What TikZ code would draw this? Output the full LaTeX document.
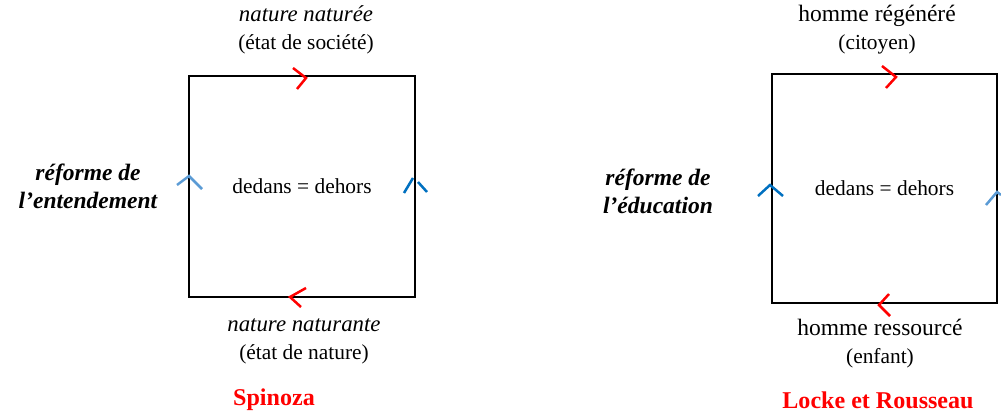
\documentclass[tikz,border=0pt]{standalone}
\usepackage{fontspec}
\setmainfont{Liberation Serif}
\usepackage{tikz}
\definecolor{markred}{RGB}{255,0,0}
\definecolor{lblue}{RGB}{91,155,213}
\definecolor{dblue}{RGB}{0,112,192}
\newcommand{\largeline}{\fontsize{13.2}{15.7}\selectfont}

\begin{document}
\begin{tikzpicture}[x=0.561pt,y=-0.561pt,font=\fontsize{12}{15.7}\selectfont,
box/.style={draw,line width=1.6pt,inner sep=0pt},
lbl/.style={align=center,inner sep=0pt},
side/.style={align=center,inner sep=0pt,font=\fontsize{13.2}{15.7}\selectfont\bfseries\itshape},
who/.style={inner sep=0pt,text=markred,font=\fontsize{13.5}{15}\selectfont\bfseries},
chev/.style={line width=1.4pt}]
\useasboundingbox (0,0) rectangle (1001,412);
% Spinoza
\node[box,minimum width=126.8pt,minimum height=124pt] (spbox) at (302,186.5) {dedans = dehors};
\node[lbl] (sptop) at (306,30) {{\fontsize{12.8}{15.7}\selectfont\itshape nature naturée}\\(état de société)};
\node[lbl] (spbot) at (304,341) {{\fontsize{12.8}{15.7}\selectfont\itshape nature naturante}\\(état de nature)};
\node[side] (spside) at (88,186) {réforme de\\l’entendement};
\node[who] (spname) at (274,400) {Spinoza};
\draw[chev,markred] (293,68)--(306,78)--(297,89);
\draw[chev,markred] (306,288)--(290,297)--(301,307);
\draw[chev,lblue] (177,185)--(189,176)--(202,189);
\draw[chev,dblue] (404,193)--(413,178);
\draw[chev,dblue] (418,182)--(427,192);
% Locke et Rousseau
\node[box,minimum width=126.2pt,minimum height=128.5pt] (lrbox) at (884.5,188.5) {dedans = dehors};
\node[lbl] (lrtop) at (877,30) {{\largeline homme régénéré}\\(citoyen)};
\node[lbl] (lrbot) at (880,344) {{\largeline homme ressourcé}\\(enfant)};
\node[side] (lrside) at (658,191) {réforme de\\l’éducation};
\node[who] (lrname) at (878,400) {Locke et Rousseau};
\draw[chev,markred] (882,66)--(896,77)--(886,88);
\draw[chev,markred] (889,294)--(879,305)--(890,316);
\draw[chev,dblue] (758,196)--(770,185)--(783,196);
\draw[chev,lblue] (986,205)--(997,192)--(1001,195);
\end{tikzpicture}
\end{document}
